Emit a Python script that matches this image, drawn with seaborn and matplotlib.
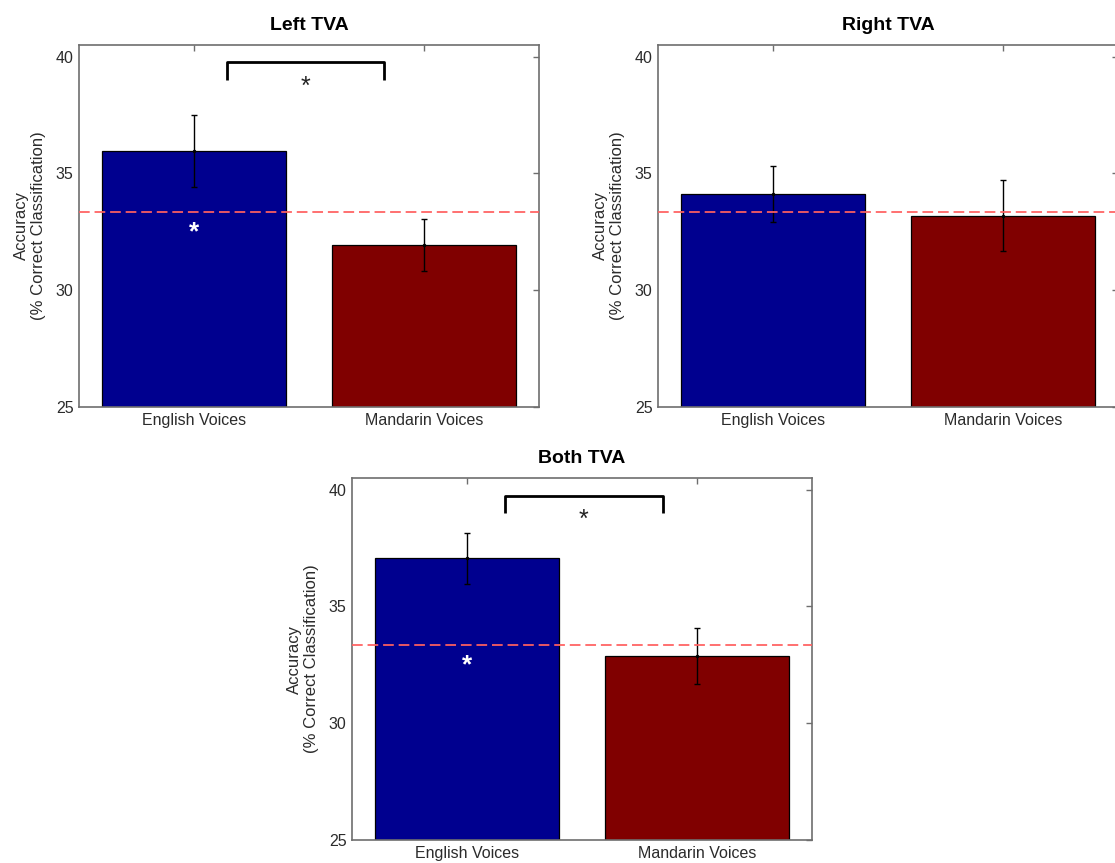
import numpy as np
import matplotlib
matplotlib.use("Agg")
import matplotlib.pyplot as plt
import seaborn as sns

# Data
CATEGORIES = ['English Voices', 'Mandarin Voices']
BAR_COLORS = ['#00008f', '#800000']
CHANCE = 33.33

left_acc = [35.97, 31.94]
left_err = [1.55, 1.13]
right_acc = [34.12, 33.19]
right_err = [1.22, 1.52]
both_acc = [37.06, 32.89]
both_err = [1.10, 1.20]

PANEL_TITLES = ['Left TVA', 'Right TVA', 'Both TVA']
Y_TICKS = [25, 30, 35, 40]

# significance markers: (bracket x-left, x-right, leg bottom, top) in category units
left_bracket = [0.142, 0.826, 39.0, 39.78]
both_bracket = [0.167, 0.850, 39.0, 39.74]
black_star_y = 38.97
white_star_y = 32.66

sns.set_style("white")
plt.rcParams['font.family'] = ['Liberation Sans', 'DejaVu Sans']

fig = plt.figure(figsize=(11.15, 8.63), dpi=100)
W, H = 1115, 863
positions = [
    [79 / W, 1 - 407 / H, 460 / W, 362 / H],
    [658 / W, 1 - 407 / H, 460 / W, 362 / H],
    [352 / W, 1 - 840 / H, 460 / W, 362 / H],
]
panels = [(left_acc, left_err), (right_acc, right_err), (both_acc, both_err)]
brackets = [left_bracket, None, both_bracket]

SPINE_COLOR = '#6e6e6e'
TEXT_COLOR = '#2b2b2b'

for i, (vals, errs) in enumerate(panels):
    ax = fig.add_axes(positions[i])
    sns.barplot(x=CATEGORIES, y=vals, hue=CATEGORIES, palette=BAR_COLORS,
                legend=False, saturation=1, width=0.8, edgecolor='black',
                linewidth=0.9, ax=ax)
    ax.errorbar(range(len(vals)), vals, yerr=errs, fmt='.', color='black',
                ms=3, capsize=2.5, elinewidth=1.0, capthick=1.0, zorder=4)
    ax.axhline(CHANCE, color='#ff6060', ls=(0, (5.5, 2.5)), lw=1.4, alpha=0.9,
               zorder=5)

    ax.set_xlim(-0.5, 1.5)
    ax.set_ylim(25, 40.5)
    ax.set_yticks(Y_TICKS)
    ax.set_xlabel('')
    ax.set_ylabel('Accuracy\n(% Correct Classification)', fontsize=12,
                  color=TEXT_COLOR, labelpad=7, linespacing=1.15)
    ax.set_title(PANEL_TITLES[i], fontsize=14, fontweight='bold', pad=11,
                 color='black')
    ax.tick_params(direction='in', top=True, right=True, length=4, width=1,
                   color=SPINE_COLOR, labelcolor=TEXT_COLOR, labelsize=11.5,
                   pad=4)
    for sp in ax.spines.values():
        sp.set_visible(True)
        sp.set_color(SPINE_COLOR)
        sp.set_linewidth(1.2)

    br = brackets[i]
    if br is not None:
        x0, x1, yl, yt = br
        ax.plot([x0, x0, x1, x1], [yl, yt, yt, yl], color='black', lw=2,
                solid_joinstyle='round', solid_capstyle='butt', zorder=6)
        ax.text((x0 + x1) / 2, black_star_y - 0.26, '*', ha='center',
                va='center', fontsize=18, color='#222222')
        ax.text(0, white_star_y - 0.19, '*', ha='center', va='center',
                fontsize=19, fontweight='bold', color='white', zorder=6)

fig.savefig('out.png', dpi=100)
